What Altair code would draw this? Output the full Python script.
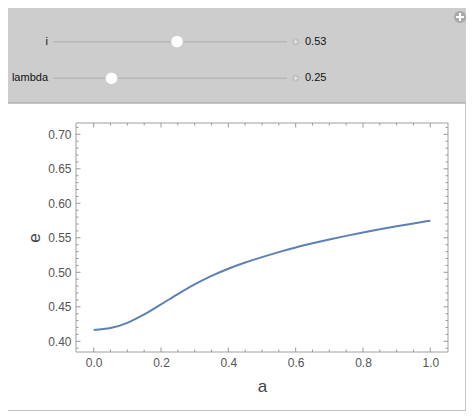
import altair as alt
import pandas as pd

# ---- data ----
a_vals = [0.0, 0.05, 0.1, 0.15, 0.2, 0.25, 0.3, 0.35, 0.4, 0.45, 0.5,
          0.55, 0.6, 0.65, 0.7, 0.75, 0.8, 0.85, 0.9, 0.95, 1.0]
e_vals = [0.4164, 0.4192, 0.4268, 0.4390, 0.4535, 0.4685, 0.4825, 0.4948, 0.5052, 0.5142, 0.5220,
          0.5293, 0.5360, 0.5420, 0.5476, 0.5528, 0.5577, 0.5623, 0.5667, 0.5708, 0.5748]

x_major = [0.0, 0.2, 0.4, 0.6, 0.8, 1.0]
x_minor = [0.05, 0.1, 0.15, 0.25, 0.3, 0.35, 0.45, 0.5, 0.55, 0.65, 0.7, 0.75, 0.85, 0.9, 0.95]
y_major = [0.40, 0.45, 0.50, 0.55, 0.60, 0.65, 0.70]
y_minor = [0.39, 0.41, 0.42, 0.43, 0.44, 0.46, 0.47, 0.48, 0.49, 0.51, 0.52, 0.53, 0.54,
           0.56, 0.57, 0.58, 0.59, 0.61, 0.62, 0.63, 0.64, 0.66, 0.67, 0.68, 0.69, 0.71]

slider_names = ["i", "lambda"]
slider_values = [0.53, 0.25]

# ---- layout ----
W, H = 372, 229
FONT = "Liberation Sans"
XS = alt.Scale(domain=[-0.0526, 1.0526], nice=False, zero=False)
YS = alt.Scale(domain=[0.3845, 0.7164], nice=False, zero=False)
XAX = alt.Axis(values=x_major, format=".1f", title="a", ticks=False, domain=False, grid=False,
               labelPadding=5, labelFont=FONT, labelFontSize=12, labelColor="#555555",
               titleFont=FONT, titleFontSize=17, titleFontWeight="normal", titleColor="#444444",
               titlePadding=10, zindex=2)
YAX = alt.Axis(values=y_major, format=".2f", title="e", ticks=False, domain=False, grid=False,
               labelPadding=5, labelFont=FONT, labelFontSize=12, labelColor="#555555",
               titleFont=FONT, titleFontSize=17, titleFontWeight="normal", titleColor="#444444",
               titlePadding=4, zindex=2)
one = pd.DataFrame({"k": [0]})

layers = []

# white panel
layers.append(
    alt.Chart(one).mark_rect(fill="white", stroke="#b3b3b3", strokeWidth=1.5).encode(
        x=alt.value(-69), x2=alt.value(390), y=alt.value(-20), y2=alt.value(288)
    )
)

# frame
layers.append(
    alt.Chart(one).mark_rect(fill="white", stroke="#a0a0a0", strokeWidth=1).encode(
        x=alt.value(0), x2=alt.value(W), y=alt.value(0), y2=alt.value(H)
    )
)

# curve with axes
df = pd.DataFrame({"a": a_vals, "e": e_vals})
layers.append(
    alt.Chart(df).mark_line(color="#5E81B5", strokeWidth=2, interpolate="monotone").encode(
        x=alt.X("a:Q", scale=XS, axis=XAX),
        y=alt.Y("e:Q", scale=YS, axis=YAX),
    )
)

# inward ticks
tick_col = "#999999"
for vals, ln in ((x_major, 4.5), (x_minor, 2.5)):
    d = pd.DataFrame({"v": vals})
    layers.append(alt.Chart(d).mark_rule(color=tick_col, strokeWidth=1).encode(
        x=alt.X("v:Q", scale=XS, axis=XAX), y=alt.value(H), y2=alt.value(H - ln)))
    layers.append(alt.Chart(d).mark_rule(color=tick_col, strokeWidth=1).encode(
        x=alt.X("v:Q", scale=XS, axis=XAX), y=alt.value(0), y2=alt.value(ln)))
for vals, ln in ((y_major, 4.5), (y_minor, 2.5)):
    d = pd.DataFrame({"v": vals})
    layers.append(alt.Chart(d).mark_rule(color=tick_col, strokeWidth=1).encode(
        y=alt.Y("v:Q", scale=YS, axis=YAX), x=alt.value(0), x2=alt.value(ln)))
    layers.append(alt.Chart(d).mark_rule(color=tick_col, strokeWidth=1).encode(
        y=alt.Y("v:Q", scale=YS, axis=YAX), x=alt.value(W), x2=alt.value(W - ln)))

# sliders
track_x0, track_len = -23, 234
row_y = [-81.3, -44.7]
for idx, (name, val) in enumerate(zip(slider_names, slider_values)):
    yy = row_y[idx]
    layers.append(alt.Chart(one).mark_text(text=name, align="right", baseline="middle",
                                           font=FONT, fontSize=11, color="#111111").encode(
        x=alt.value(-28), y=alt.value(yy)))
    layers.append(alt.Chart(one).mark_rule(color="#b8b8b8", strokeWidth=1.5).encode(
        x=alt.value(track_x0), x2=alt.value(track_x0 + track_len), y=alt.value(yy)))
    layers.append(alt.Chart(one).mark_point(shape="circle", filled=True, fill="white", size=150,
                                            stroke="#c4c4c4", strokeWidth=0.6, opacity=1).encode(
        x=alt.value(track_x0 + val * track_len), y=alt.value(yy)))
    # small plus button
    layers.append(alt.Chart(one).mark_point(shape="circle", filled=True, color="#bdbdbd", size=50,
                                            opacity=1).encode(
        x=alt.value(219.7), y=alt.value(yy)))
    layers.append(alt.Chart(one).mark_rule(color="#e6e6e6", strokeWidth=1.2).encode(
        x=alt.value(217.5), x2=alt.value(222), y=alt.value(yy)))
    layers.append(alt.Chart(one).mark_rule(color="#e6e6e6", strokeWidth=1.2).encode(
        x=alt.value(219.7), y=alt.value(yy - 2.3), y2=alt.value(yy + 2.3)))
    vd = pd.DataFrame({"value": [val]})
    layers.append(alt.Chart(vd).mark_text(align="left", baseline="middle", font=FONT,
                                          fontSize=11, color="#111111").encode(
        x=alt.value(229), y=alt.value(yy), text=alt.Text("value:Q", format=".2f")))

# top-right plus button
layers.append(alt.Chart(one).mark_point(shape="circle", filled=True, color="#a9a9a9", size=150,
                                        opacity=1).encode(x=alt.value(384), y=alt.value(-106)))
layers.append(alt.Chart(one).mark_rule(color="white", strokeWidth=2).encode(
    x=alt.value(380), x2=alt.value(388), y=alt.value(-106)))
layers.append(alt.Chart(one).mark_rule(color="white", strokeWidth=2).encode(
    x=alt.value(384), y=alt.value(-110), y2=alt.value(-102)))

chart = alt.layer(*layers).properties(
    width=W, height=H,
    autosize=alt.AutoSizeParams(type="none"),
    padding={"left": 68, "top": 115, "right": 18, "bottom": 59},
    background="#cdcdcd",
).configure_view(stroke=None)

chart.save("out.html", embed_options={"renderer": "svg", "actions": False})
